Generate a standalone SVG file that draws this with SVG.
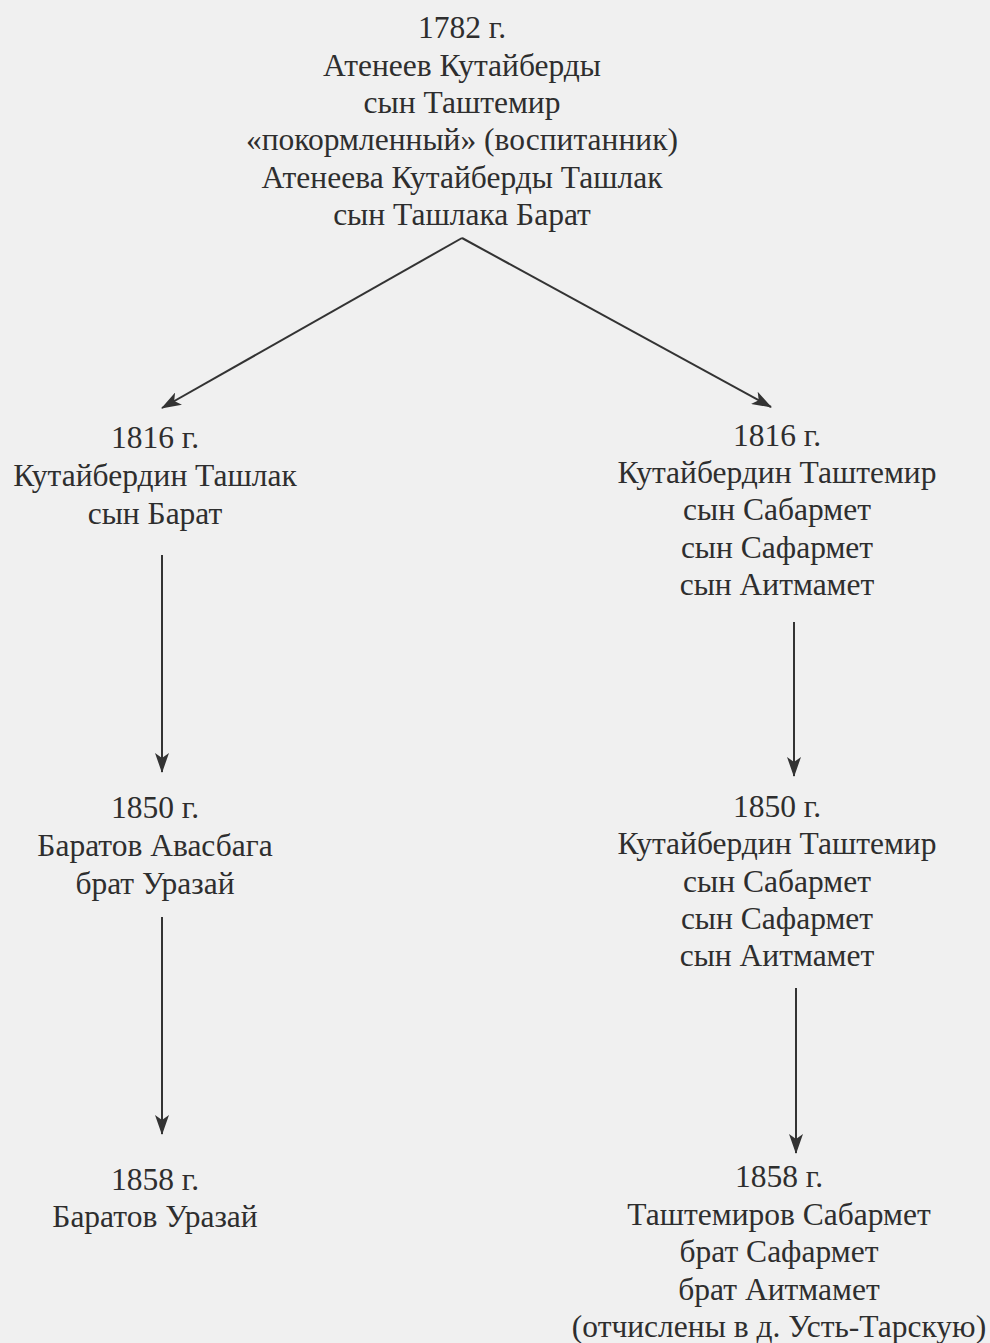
<svg xmlns="http://www.w3.org/2000/svg" width="990" height="1343" viewBox="0 0 990 1343">
<style>
text{font-family:"Liberation Serif","Times New Roman",serif;font-size:31.5px;fill:#2e2e2e;text-anchor:middle}
.c{stroke:#333;stroke-width:2;fill:none}
</style>
<defs>
<marker id="ah" viewBox="0 0 20 14" refX="19" refY="7" markerWidth="20" markerHeight="14" markerUnits="userSpaceOnUse" orient="auto">
<path d="M0,0 L20,7 L0,14 L5,7 z" fill="#333"/>
</marker>
</defs>
<rect width="990" height="1343" fill="#f0f0f0"/>
<g id="n1782">
<text x="462" y="38">1782 г.</text>
<text x="462" y="76">Атенеев Кутайберды</text>
<text x="462" y="113">сын Таштемир</text>
<text x="462" y="150">«покормленный» (воспитанник)</text>
<text x="462" y="188">Атенеева Кутайберды Ташлак</text>
<text x="462" y="225">сын Ташлака Барат</text>
</g>
<g id="n1816L">
<text x="155" y="448">1816 г.</text>
<text x="155" y="486">Кутайбердин Ташлак</text>
<text x="155" y="524">сын Барат</text>
</g>
<g id="n1816R">
<text x="777" y="446">1816 г.</text>
<text x="777" y="483">Кутайбердин Таштемир</text>
<text x="777" y="520">сын Сабармет</text>
<text x="777" y="558">сын Сафармет</text>
<text x="777" y="595">сын Аитмамет</text>
</g>
<g id="n1850L">
<text x="155" y="818">1850 г.</text>
<text x="155" y="856">Баратов Авасбага</text>
<text x="155" y="894">брат Уразай</text>
</g>
<g id="n1850R">
<text x="777" y="817">1850 г.</text>
<text x="777" y="854">Кутайбердин Таштемир</text>
<text x="777" y="892">сын Сабармет</text>
<text x="777" y="929">сын Сафармет</text>
<text x="777" y="966">сын Аитмамет</text>
</g>
<g id="n1858L">
<text x="155" y="1190">1858 г.</text>
<text x="155" y="1227">Баратов Уразай</text>
</g>
<g id="n1858R">
<text x="779" y="1187">1858 г.</text>
<text x="779" y="1225">Таштемиров Сабармет</text>
<text x="779" y="1262">брат Сафармет</text>
<text x="779" y="1300">брат Аитмамет</text>
<text x="779" y="1337">(отчислены в д. Усть-Тарскую)</text>
</g>
<g id="connectors">
<path class="c" d="M462,238 L162,408" marker-end="url(#ah)"/>
<path class="c" d="M462,238 L771,407" marker-end="url(#ah)"/>
<path class="c" d="M162,555 L162,772" marker-end="url(#ah)"/>
<path class="c" d="M794,622 L794,776" marker-end="url(#ah)"/>
<path class="c" d="M162,917 L162,1134" marker-end="url(#ah)"/>
<path class="c" d="M796,988 L796,1153" marker-end="url(#ah)"/>
</g>
</svg>
